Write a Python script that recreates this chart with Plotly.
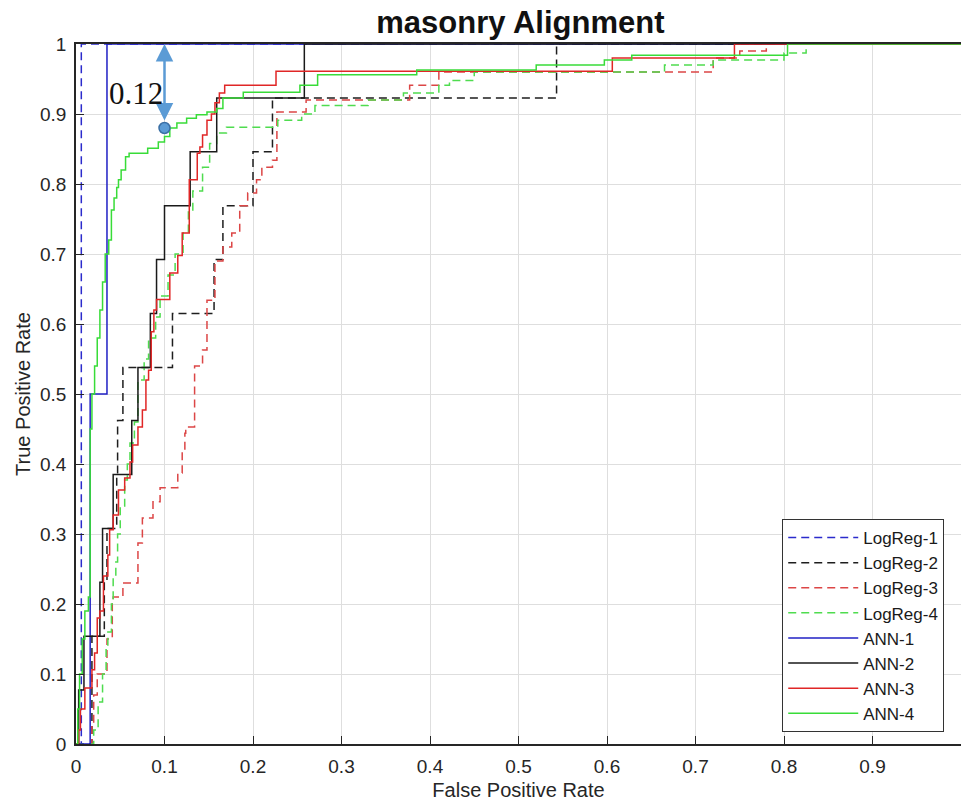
import plotly.graph_objects as go

# ROC operating points (FPR, TPR) for each model; each pair is the point
# reached after a vertical step, drawn as a staircase.
logreg1_fpr = [0.0, 0.006, 1.0]
logreg1_tpr = [0.0, 1.0, 1.0]

logreg2_fpr = [0.0, 0.018, 0.032, 0.035, 0.046, 0.047, 0.053, 0.109, 0.156, 0.166, 0.200, 0.222, 0.543, 1.0]
logreg2_tpr = [0.0, 0.154, 0.231, 0.308, 0.385, 0.462, 0.538, 0.615, 0.692, 0.769, 0.846, 0.923, 1.0, 1.0]

logreg3_fpr = [0.0, 0.018, 0.020, 0.024, 0.035, 0.041, 0.042, 0.053, 0.070, 0.075, 0.087, 0.095, 0.115,
               0.120, 0.123, 0.124, 0.134, 0.143, 0.148, 0.157, 0.166, 0.176, 0.185, 0.194, 0.204, 0.210,
               0.222, 0.227, 0.260, 0.377, 0.410, 0.720, 0.750, 0.780, 1.0]
logreg3_tpr = [0.0, 0.03, 0.07, 0.10, 0.15, 0.20, 0.21, 0.23, 0.287, 0.323, 0.346, 0.366, 0.387,
               0.42, 0.444, 0.453, 0.54, 0.563, 0.634, 0.69, 0.71, 0.73, 0.769, 0.787, 0.806, 0.824,
               0.834, 0.903, 0.92, 0.941, 0.96, 0.98, 0.99, 1.0, 1.0]

logreg4_fpr = [0.0, 0.020, 0.025, 0.030, 0.034, 0.036, 0.040, 0.042, 0.045, 0.047, 0.050, 0.055, 0.058,
               0.061, 0.066, 0.070, 0.077, 0.082, 0.090, 0.095, 0.104, 0.112, 0.121, 0.127, 0.132, 0.143,
               0.151, 0.159, 0.170, 0.228, 0.255, 0.270, 0.330, 0.370, 0.410, 0.422, 0.450, 0.665, 0.720,
               0.800, 0.825, 1.0]
logreg4_tpr = [0.0, 0.02, 0.06, 0.10, 0.14, 0.16, 0.20, 0.24, 0.26, 0.30, 0.34, 0.377, 0.40,
               0.43, 0.46, 0.52, 0.55, 0.58, 0.61, 0.64, 0.67, 0.70, 0.73, 0.76, 0.79, 0.824,
               0.858, 0.873, 0.881, 0.891, 0.90, 0.912, 0.92, 0.93, 0.941, 0.948, 0.96, 0.97, 0.977,
               0.987, 1.0, 1.0]

ann1_fpr = [0.0, 0.016, 0.035, 1.0]
ann1_tpr = [0.0, 0.5, 1.0, 1.0]

ann2_fpr = [0.0, 0.003, 0.009, 0.027, 0.030, 0.042, 0.063, 0.070, 0.084, 0.091, 0.100, 0.129, 0.159, 0.258, 1.0]
ann2_tpr = [0.0, 0.077, 0.154, 0.231, 0.308, 0.385, 0.462, 0.538, 0.615, 0.692, 0.769, 0.846, 0.923, 1.0, 1.0]

ann3_fpr = [0.0, 0.003, 0.005, 0.010, 0.018, 0.021, 0.024, 0.027, 0.031, 0.036, 0.038, 0.042, 0.048,
            0.055, 0.061, 0.064, 0.070, 0.075, 0.079, 0.082, 0.085, 0.088, 0.091, 0.106, 0.115, 0.120,
            0.128, 0.137, 0.140, 0.143, 0.148, 0.153, 0.157, 0.162, 0.168, 0.226, 0.606, 0.744, 1.0]
ann3_tpr = [0.0, 0.02, 0.05, 0.08, 0.106, 0.13, 0.18, 0.19, 0.24, 0.27, 0.306, 0.327, 0.363,
            0.38, 0.403, 0.427, 0.453, 0.477, 0.52, 0.534, 0.589, 0.62, 0.635, 0.673, 0.698, 0.73,
            0.806, 0.844, 0.853, 0.87, 0.891, 0.90, 0.916, 0.93, 0.941, 0.961, 0.98, 1.0, 1.0]

ann4_fpr = [0.0, 0.002, 0.004, 0.007, 0.010, 0.014, 0.016, 0.018, 0.021, 0.024, 0.027, 0.030, 0.033,
            0.037, 0.040, 0.043, 0.046, 0.048, 0.051, 0.056, 0.060, 0.081, 0.093, 0.100, 0.106, 0.114,
            0.125, 0.136, 0.148, 0.159, 0.166, 0.189, 0.253, 0.273, 0.385, 0.520, 0.597, 0.628, 0.804, 1.0]
ann4_tpr = [0.0, 0.05, 0.10, 0.15, 0.19, 0.21, 0.45, 0.50, 0.54, 0.58, 0.62, 0.66, 0.70,
            0.72, 0.763, 0.78, 0.795, 0.806, 0.82, 0.839, 0.844, 0.851, 0.86, 0.868, 0.88, 0.887,
            0.894, 0.899, 0.903, 0.908, 0.923, 0.931, 0.941, 0.956, 0.963, 0.97, 0.977, 0.984, 1.0, 1.0]

# Highlighted gap between ANN-1 and ANN-4 at FPR = 0.1
gap_fpr = 0.1
gap_value = 0.12

series = [
    ("LogReg-1", logreg1_fpr, logreg1_tpr, "#2b2bcc", "dash"),
    ("LogReg-2", logreg2_fpr, logreg2_tpr, "#1e1e1e", "dash"),
    ("LogReg-3", logreg3_fpr, logreg3_tpr, "#dc4646", "dash"),
    ("LogReg-4", logreg4_fpr, logreg4_tpr, "#4fdc4f", "dash"),
    ("ANN-1", ann1_fpr, ann1_tpr, "#2020c4", "solid"),
    ("ANN-2", ann2_fpr, ann2_tpr, "#1a1a1a", "solid"),
    ("ANN-3", ann3_fpr, ann3_tpr, "#e02626", "solid"),
    ("ANN-4", ann4_fpr, ann4_tpr, "#38dc38", "solid"),
]

fig = go.Figure()
for name, xs, ys, color, style in series:
    fig.add_trace(go.Scatter(
        x=xs, y=ys, name=name, mode="lines",
        line=dict(color=color, width=1.5, shape="hv",
                  dash="8px,5px" if style == "dash" else "solid"),
    ))

# Marker on ANN-4 at the gap location
fig.add_trace(go.Scatter(
    x=[gap_fpr], y=[1 - gap_value], mode="markers", showlegend=False,
    marker=dict(size=11, color="#5b9bd5", line=dict(color="#3a6fa5", width=1.5)),
))

fig.add_annotation(
    x=gap_fpr, y=1.0, ax=gap_fpr, ay=1 - gap_value,
    xref="x", yref="y", axref="x", ayref="y",
    text="", showarrow=True, arrowside="end+start",
    arrowhead=2, startarrowhead=2, arrowsize=1.4, startarrowsize=1.4,
    arrowwidth=2.5, arrowcolor="#5b9bd5", standoff=0, startstandoff=6,
)
fig.add_annotation(
    x=0.068, y=0.93, xref="x", yref="y", text=f"{gap_value:.2f}", showarrow=False,
    font=dict(family="Liberation Serif, Times New Roman, serif", size=31, color="#111111"),
)

sans = "Liberation Sans, Arial, sans-serif"
axis_font = dict(family=sans, size=19, color="#262626")
label_font = dict(family=sans, size=20, color="#262626")

fig.update_layout(
    width=961, height=807,
    margin=dict(l=76, r=0, t=44, b=63),
    paper_bgcolor="white", plot_bgcolor="white",
    title=dict(text="<b>masonry Alignment</b>", x=0.5415, xanchor="center", y=0.973, yanchor="middle",
               font=dict(family=sans, size=31, color="#111111")),
    legend=dict(x=0.798, y=0.3214, xanchor="left", yanchor="top",
                bgcolor="white", bordercolor="#333333", borderwidth=1,
                font=dict(family=sans, size=17, color="#1a1a1a"),
                itemwidth=70),
    showlegend=True,
)
fig.update_xaxes(
    range=[0, 1], dtick=0.1, tick0=0,
    showgrid=True, gridcolor="#dedede", gridwidth=1, zeroline=False,
    showline=True, linecolor="#262626", linewidth=1.5, mirror=True,
    ticks="inside", ticklen=8, tickcolor="#262626",
    tickfont=axis_font, ticklabelstandoff=4,
    title=dict(text="False Positive Rate", font=label_font, standoff=7),
)
fig.update_yaxes(
    range=[0, 1], dtick=0.1, tick0=0,
    showgrid=True, gridcolor="#dedede", gridwidth=1, zeroline=False,
    showline=True, linecolor="#262626", linewidth=1.5,
    ticks="inside", ticklen=8, tickcolor="#262626",
    tickfont=axis_font, ticklabelstandoff=4,
    title=dict(text="True Positive Rate", font=label_font, standoff=4),
)

fig.write_html("out.html")
